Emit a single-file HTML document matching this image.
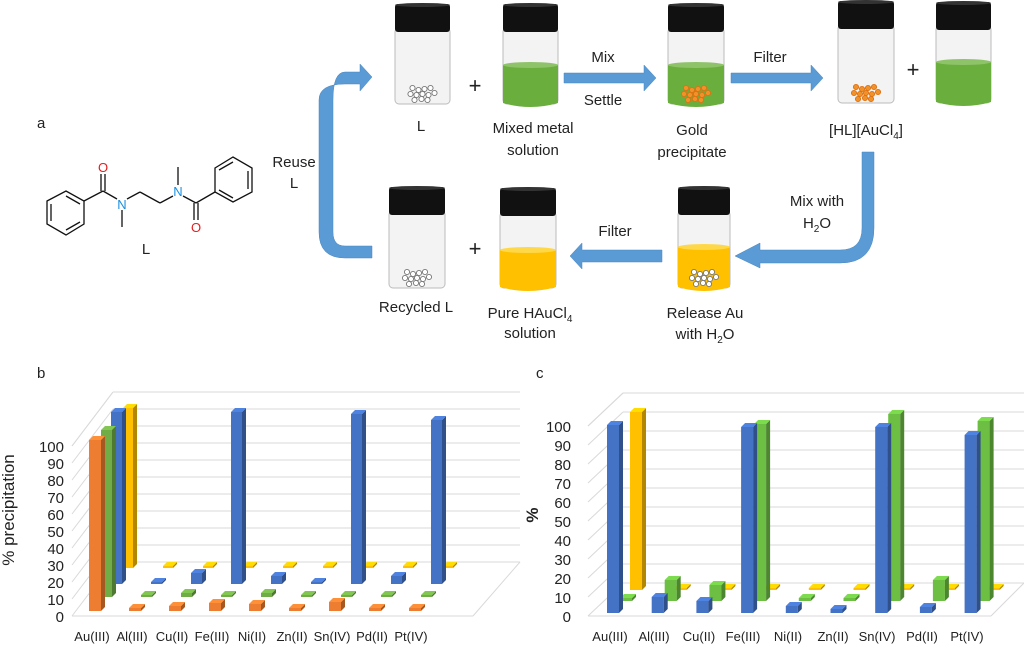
<!DOCTYPE html>
<html><head><meta charset="utf-8"><style>
html,body{margin:0;padding:0;background:#fff;}
svg{display:block;font-family:"Liberation Sans",sans-serif;}
</style></head><body>
<svg id="s" width="1024" height="645" viewBox="0 0 1024 645" xmlns="http://www.w3.org/2000/svg">
<rect width="1024" height="645" fill="#fff"/>
<g font-size="15" fill="#222">
<text x="37" y="128">a</text>
<text x="37" y="378">b</text>
<text x="536" y="378">c</text>
</g>
<!-- molecule -->
<g stroke="#111" stroke-width="1.3" fill="none">
<polygon points="47,201 66,191 84,201 84,224 66,235 47,224"/>
<line x1="51" y1="204" x2="51" y2="221"/><line x1="66" y1="230" x2="80" y2="222"/><line x1="66" y1="196" x2="80" y2="204"/>
<line x1="84" y1="201" x2="103" y2="191"/>
<line x1="101" y1="191" x2="101" y2="174"/><line x1="105" y1="191" x2="105" y2="174"/>
<line x1="103" y1="191" x2="117" y2="199"/>
<line x1="122" y1="210" x2="122" y2="227"/>
<line x1="127" y1="199" x2="140" y2="192"/><line x1="140" y1="192" x2="160" y2="203"/><line x1="160" y1="203" x2="173" y2="196"/>
<line x1="178" y1="185" x2="178" y2="167"/>
<line x1="183" y1="196" x2="196" y2="203"/>
<line x1="194" y1="203" x2="194" y2="220"/><line x1="198" y1="203" x2="198" y2="220"/>
<line x1="196" y1="203" x2="215" y2="192"/>
<polygon points="215,168 233,157 252,168 252,192 233,202 215,192"/>
<line x1="248" y1="171" x2="248" y2="189"/><line x1="219" y1="170" x2="233" y2="162"/><line x1="219" y1="190" x2="233" y2="198"/>
</g>
<g font-size="13">
<text x="103" y="172" fill="#e02020" text-anchor="middle">O</text>
<text x="122" y="209" fill="#1a8fe0" text-anchor="middle">N</text>
<text x="178" y="196" fill="#1a8fe0" text-anchor="middle">N</text>
<text x="196" y="232" fill="#e02020" text-anchor="middle">O</text>
</g>
<g id="lbl" font-size="15" fill="#222" text-anchor="middle">
<text x="146" y="254">L</text>
<text x="294" y="167">Reuse</text><text x="294" y="188">L</text>
<text x="421" y="131">L</text>
<text x="533" y="133">Mixed metal</text><text x="533" y="155">solution</text>
<text x="603" y="62">Mix</text><text x="603" y="105">Settle</text>
<text x="692" y="135">Gold</text><text x="692" y="157">precipitate</text>
<text x="770" y="62">Filter</text>
<text x="866" y="135">[HL][AuCl<tspan font-size="10" dy="4">4</tspan><tspan dy="-4">]</tspan></text>
<text x="817" y="206">Mix with</text><text x="817" y="228">H<tspan font-size="10" dy="4">2</tspan><tspan dy="-4">O</tspan></text>
<text x="615" y="236">Filter</text>
<text x="416" y="312">Recycled L</text>
<text x="530" y="318">Pure HAuCl<tspan font-size="10" dy="4">4</tspan></text><text x="530" y="338">solution</text>
<text x="705" y="318">Release Au</text><text x="705" y="339">with H<tspan font-size="10" dy="4">2</tspan><tspan dy="-4">O</tspan></text>
</g>
<g font-size="22" fill="#222" text-anchor="middle">
<text x="475" y="93">+</text><text x="475" y="256">+</text><text x="913" y="77">+</text>
</g>
<g fill="#5b9bd5" stroke="#4a86c0" stroke-width="0.5">
<polygon points="564,73 644,73 644,65 656,78 644,91 644,83 564,83"/>
<polygon points="731,73 811,73 811,65 823,78 811,91 811,83 731,83"/>
<polygon points="662,250 582,250 582,243 570,256 582,269 582,262 662,262"/>
<path d="M862,152 H874 V228 Q874,263 840,263 H760 V268 L735,256 L760,243 V250 H840 Q862,250 862,228 Z"/>
<path d="M372,246 V258 H345 Q319,258 319,232 V100 Q319,84 345,84 H360 V91 L372,77 L360,64 V72 H345 Q333,72 333,100 V232 Q333,246 345,246 Z"/>
</g>
<g id="vials"></g>
<g id="charts"></g>
<g font-size="15" fill="#222" text-anchor="middle" id="xl"></g>
<text transform="translate(14,510) rotate(-90)" font-size="17" fill="#222" text-anchor="middle">% precipitation</text>
<text transform="translate(538,515) rotate(-90)" font-size="17" font-weight="bold" fill="#222" text-anchor="middle">%</text>
</svg>
<script>
var NS="http://www.w3.org/2000/svg";
function el(p,t,a){var e=document.createElementNS(NS,t);for(var k in a)e.setAttribute(k,a[k]);p.appendChild(e);return e;}
var V=document.getElementById('vials');
function vial(x,y,w,bot,liq,col,beads,bcol){
 var capH=28;
 el(V,'rect',{x:x,y:y+capH-4,width:w,height:bot-y-capH,rx:4,fill:'#f3f3f3',stroke:'#bbb','stroke-width':1});
 if(liq){el(V,'path',{d:'M'+x+','+liq+' V'+(bot-5)+' Q'+(x+w/2)+','+(bot+3)+' '+(x+w)+','+(bot-5)+' V'+liq+' Z',fill:col});
  el(V,'ellipse',{cx:x+w/2,cy:liq,rx:w/2,ry:3,fill:col=='#ffc000'?'#ffd84a':'#8fc36a'});}
 el(V,'rect',{x:x,y:y,width:w,height:capH,rx:3,fill:'#111'});
 el(V,'ellipse',{cx:x+w/2,cy:y+1,rx:w/2,ry:2,fill:'#333'});
 if(beads){var pts=[[-10,-14],[-4,-12],[2,-13],[8,-14],[-12,-8],[-6,-7],[0,-8],[6,-7],[12,-9],[-8,-2],[-1,-3],[5,-2]];
  pts.forEach(function(p){el(V,'circle',{cx:x+w/2+p[0],cy:bot-12+p[1]+6,r:2.6,fill:bcol=='o'?'#f0922a':'#fff',stroke:bcol=='o'?'#e07010':'#777','stroke-width':0.9});});}
}
vial(395,4,55,108,0,0,1,'w');
vial(503,4,55,108,65,'#6aaf3d',0);
vial(668,4,56,108,65,'#6aaf3d',1,'o');
vial(838,1,56,107,0,0,1,'o');
vial(936,2,55,107,62,'#6aaf3d',0);
vial(389,187,56,292,0,0,1,'w');
vial(500,188,56,292,250,'#ffc000',0);
vial(678,187,52,292,247,'#ffc000',1,'w');

var C=document.getElementById('charts');
function dk(c,f){var n=parseInt(c.slice(1),16);var r=(n>>16)*f,g=((n>>8)&255)*f,b=(n&255)*f;return 'rgb('+Math.round(Math.min(255,r))+','+Math.round(Math.min(255,g))+','+Math.round(Math.min(255,b))+')';}
function bar(x,base,top,w,c){if(top>base-2)top=base-2;var d=4;
 el(C,'rect',{x:x,y:top,width:w,height:base-top,fill:c});
 el(C,'polygon',{points:(x+w)+','+top+' '+(x+w+d)+','+(top-d)+' '+(x+w+d)+','+(base-d)+' '+(x+w)+','+base,fill:dk(c,0.7)});
 el(C,'polygon',{points:x+','+top+' '+(x+d)+','+(top-d)+' '+(x+w+d)+','+(top-d)+' '+(x+w)+','+top,fill:dk(c,1.15)});}
function frame(fx0,fx1,fy,bx0,bx1,by,step,n,top){
 var g='#d9d9d9';
 for(var k=0;k<=n;k++){var yb=by-step*k,yf=fy-step*k;el(C,'line',{x1:bx0,y1:yb,x2:bx1,y2:yb,stroke:g});el(C,'line',{x1:fx0,y1:yf,x2:bx0,y2:yb,stroke:g});}
 el(C,'line',{x1:bx0,y1:top,x2:bx1,y2:top,stroke:g});
 el(C,'line',{x1:fx0,y1:top+(fy-by),x2:bx0,y2:top,stroke:g});
 el(C,'line',{x1:fx0,y1:fy,x2:fx1,y2:fy,stroke:g});el(C,'line',{x1:fx1,y1:fy,x2:bx1,y2:by,stroke:g});
}
frame(72,473,616,113,520,562,17,10,392);
var ax=document.getElementById('xl');
for(var k=0;k<=10;k++){el(ax,'text',{x:64,y:622-17*k,'text-anchor':'end'}).textContent=String(k*10);}
var cats=['Au(III)','Al(III)','Cu(II)','Fe(III)','Ni(II)','Zn(II)','Sn(IV)','Pd(II)','Pt(IV)'];
var bx=[92,132,172,212,252,292,332,372,411];
cats.forEach(function(c,i){el(ax,'text',{x:bx[i],y:641,'font-size':13}).textContent=c;});
var O='#ed7d31',G='#70ad47',B='#4472c4',Y='#ffc000';
for(var i=0;i<9;i++){var x=123+40*i;bar(x,568,i==0?408:566,10,Y);}
var bt=[412,582,573,412,576,582,414,576,420];
for(var i=0;i<9;i++){bar(111+40*i,584,bt[i],11,B);}
for(var i=0;i<9;i++){bar(101+40*i,597,i==0?430:(i==2||i==4?593:595),11,G);}
var ot=[440,608,606,603,604,608,602,608,608];
for(var i=0;i<9;i++){bar(89+40*i,611,ot[i],12,O);}
frame(588,991,616,623,1024,583,19,10,393);
for(var k=0;k<=10;k++){el(ax,'text',{x:571,y:622-19*k,'text-anchor':'end'}).textContent=String(k*10);}
var cx=[610,654,699,743,788,833,877,922,967];
cats.forEach(function(c,i){el(ax,'text',{x:cx[i],y:641,'font-size':13}).textContent=c;});
var G2='#6cbf43';
for(var i=0;i<9;i++){bar(630+44.7*i,590,i==0?412:588,12,Y);}
var gt=[598,580,585,424,598,598,414,580,421];
for(var i=0;i<9;i++){bar(620+44.7*i,601,gt[i],12,G2);}
var bt2=[425,597,601,427,606,609,427,607,435];
for(var i=0;i<9;i++){bar(607+44.7*i,613,bt2[i],12,B);}
</script>
</body></html>
